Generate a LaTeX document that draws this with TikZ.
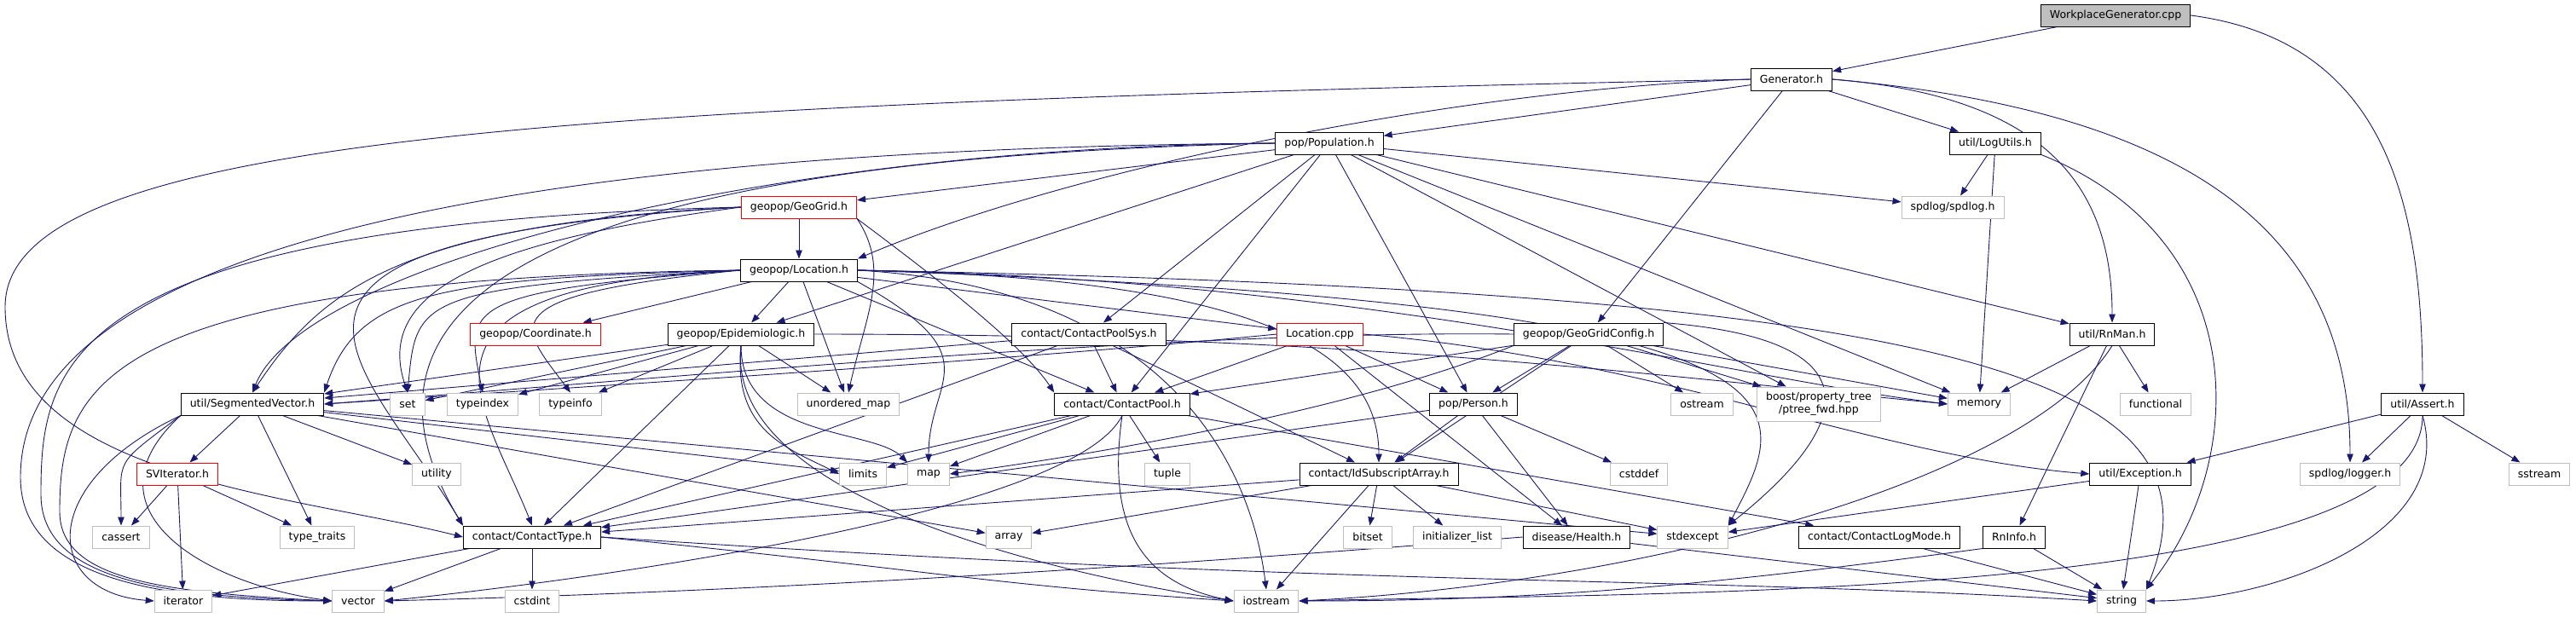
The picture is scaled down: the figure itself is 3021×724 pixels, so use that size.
\documentclass[tikz,border=0pt]{standalone}
\usepackage{fontspec}
\setmainfont{DejaVu Sans}
\usetikzlibrary{arrows.meta}
\definecolor{edgeblue}{HTML}{191970}
\definecolor{sysgray}{HTML}{BFBFBF}
\pgfdeclarelayer{paper}
\pgfdeclarelayer{edges}
\pgfsetlayers{paper,edges,main}

\tikzset{
  header/.style={draw=black, fill=white, line width=1pt, minimum height=26pt,
    inner xsep=10.5pt, inner ysep=2pt, font=\fontsize{12.5}{15}\selectfont},
  syshdr/.style={header, draw=sysgray},
  cuthdr/.style={header, draw=red},
  dep/.style={edgeblue, line width=0.9pt, -{Triangle[length=10pt,width=7.5pt]}}
}

\begin{document}
\begin{tikzpicture}[x=1pt, y=-1pt]
\begin{pgfonlayer}{paper}
\fill[white] (0,0) rectangle (3021,724);
\end{pgfonlayer}
\useasboundingbox (0,0) rectangle (3021,724);

% files of the project
\node[header, fill=sysgray] (wg) at (2481,18) {WorkplaceGenerator.cpp};
\node[header] (gen) at (2101,93) {Generator.h};
\node[header] (popu) at (1559,168) {pop/Population.h};
\node[header] (logu) at (2340,168) {util/LogUtils.h};
\node[cuthdr] (gg) at (937,243) {geopop/GeoGrid.h};
\node[header] (loch) at (937,317) {geopop/Location.h};
\node[cuthdr] (coord) at (628,392) {geopop/Coordinate.h};
\node[header] (epi) at (869,392) {geopop/Epidemiologic.h};
\node[header] (cpsys) at (1277,392) {contact/ContactPoolSys.h};
\node[cuthdr] (lcpp) at (1548,392) {Location.cpp};
\node[header] (ggc) at (1863,392) {geopop/GeoGridConfig.h};
\node[header] (rnman) at (2477,392) {util/RnMan.h};
\node[header] (segvec) at (296,474) {util/SegmentedVector.h};
\node[header] (cpool) at (1316,474) {contact/ContactPool.h};
\node[header] (person) at (1728,474) {pop/Person.h};
\node[header] (assert) at (2841,474) {util/Assert.h};
\node[cuthdr] (sviter) at (208,556) {SVIterator.h};
\node[header] (idsub) at (1617,556) {contact/IdSubscriptArray.h};
\node[header] (exception) at (2510,556) {util/Exception.h};
\node[header] (ctype) at (624,630) {contact/ContactType.h};
\node[header] (health) at (1849,630) {disease/Health.h};
\node[header] (logmode) at (2204,630) {contact/ContactLogMode.h};
\node[header] (rninfo) at (2362,630) {RnInfo.h};

% system and library headers
\node[syshdr] (spdlog) at (2290,243) {spdlog/spdlog.h};
\node[syshdr] (set) at (478,474) {set};
\node[syshdr] (typeindex) at (566,474) {typeindex};
\node[syshdr] (typeinfo) at (669,474) {typeinfo};
\node[syshdr] (umap) at (995,474) {unordered\_map};
\node[syshdr] (ostream) at (1996,474) {ostream};
\node[syshdr, minimum height=40pt, align=center] (boost) at (2133,474) {boost/property\_tree\\/ptree\_fwd.hpp};
\node[syshdr] (memory) at (2321,474) {memory};
\node[syshdr] (functional) at (2528,474) {functional};
\node[syshdr] (utility) at (512,556) {utility};
\node[syshdr] (limits) at (1012,556) {limits};
\node[syshdr] (map) at (1089,556) {map};
\node[syshdr] (tuple) at (1369,556) {tuple};
\node[syshdr] (cstddef) at (1922,556) {cstddef};
\node[syshdr] (logger) at (2756,556) {spdlog/logger.h};
\node[syshdr] (sstream) at (2978,556) {sstream};
\node[syshdr] (cassert) at (142,630) {cassert};
\node[syshdr] (typetraits) at (372,630) {type\_traits};
\node[syshdr] (array) at (1183,630) {array};
\node[syshdr] (bitset) at (1604,630) {bitset};
\node[syshdr] (initlist) at (1709,630) {initializer\_list};
\node[syshdr] (stdexcept) at (1985,630) {stdexcept};
\node[syshdr] (iterator) at (215,705) {iterator};
\node[syshdr] (vector) at (420,705) {vector};
\node[syshdr] (cstdint) at (624,705) {cstdint};
\node[syshdr] (iostream) at (1485,705) {iostream};
\node[syshdr] (string) at (2488,705) {string};

% turning points of the long edges on the left
\coordinate (railA) at (6,360);
\coordinate (railB) at (24,560);
\coordinate (railC) at (48,580);
\coordinate (railD) at (70,600);

\begin{pgfonlayer}{edges}
% WorkplaceGenerator.cpp and Generator.h
\draw[dep] (wg) -- (gen);
\draw[dep] (wg.east) .. controls +(230,30) and +(0,-220) .. (assert.north);
\foreach \t in {popu,logu,ggc}
  \draw[dep] (gen) -- (\t);
\draw[dep] (gen.east) .. controls +(250,20) and +(0,-160) .. (rnman.north);
\draw[dep] (gen.east) .. controls +(450,40) and +(0,-250) .. (logger.north);
\draw[dep] (gen.west) .. controls +(-350,12) and +(244,-104) .. (loch.north east);
\draw[dep] (gen.west) .. controls +(-1400,30) and +(0,-200) .. (railA)
  .. controls +(0,200) and +(-200,-50) .. (ctype.west);

% util/LogUtils.h
\draw[dep] (logu) -- (spdlog);
\draw[dep] (logu) -- (memory);
\draw[dep] (logu.south east) .. controls +(250,100) and +(120,-150) .. (string.north east);

% pop/Population.h
\foreach \t in {gg,epi,cpsys,cpool,person,boost,memory,spdlog,rnman}
  \draw[dep] (popu) -- (\t);
\draw[dep] (popu.west) .. controls +(-600,5) and +(60,-150) .. (segvec.north);
\draw[dep] (popu.west) .. controls +(-900,20) and +(-150,-250) .. (ctype.north west);
\draw[dep] (popu.west) .. controls +(-1300,10) and +(0,-150) .. (railB)
  .. controls +(0,120) and +(-200,0) .. (vector.west);

% geopop/GeoGrid.h
\draw[dep] (gg) -- (loch);
\draw[dep] (gg.south east) .. controls +(80,60) and +(-40,-60) .. (cpool.north west);
\draw[dep] (gg.south east) .. controls +(40,60) and +(20,-90) .. (umap.north);
\draw[dep] (gg.west) .. controls +(-400,20) and +(80,-120) .. (segvec.north);
\draw[dep] (gg.west) .. controls +(-300,40) and +(-40,-120) .. (set.north);
\draw[dep] (gg.west) .. controls +(-650,40) and +(-120,-200) .. (ctype.north west);
\draw[dep] (gg.west) .. controls +(-800,20) and +(0,-150) .. (railC)
  .. controls +(0,100) and +(-200,-5) .. (vector.west);

% geopop/Location.h
\foreach \t in {coord,epi,lcpp,cpool,umap}
  \draw[dep] (loch) -- (\t);
\draw[dep] (loch.west) .. controls +(-350,10) and +(40,-120) .. (segvec.north east);
\draw[dep] (loch.west) .. controls +(-380,20) and +(10,-110) .. (set.north);
\draw[dep] (loch.west) .. controls +(-330,25) and +(-20,-100) .. (typeindex.north);
\draw[dep] (loch.west) .. controls +(-300,30) and +(-60,-80) .. (typeinfo.north);
\draw[dep] (loch.west) .. controls +(-420,20) and +(-60,-150) .. (ctype.north);
\draw[dep] (loch.east) .. controls +(500,10) and +(0,-120) .. (idsub.north);
\draw[dep] (loch.south east) .. controls +(160,90) and +(0,-100) .. (map.north);
\draw[dep] (loch.east) .. controls +(350,20) and +(-20,-160) .. (iostream.north);
\draw[dep] (loch.east) .. controls +(600,10) and +(-250,-30) .. (memory.west);
\draw[dep] (loch.east) .. controls +(1300,25) and +(100,-250) .. (string.north east);
\draw[dep] (loch.east) .. controls +(1150,40) and +(80,-150) .. (stdexcept.north east);
\draw[dep] (loch.west) .. controls +(-750,10) and +(0,-150) .. (railD)
  .. controls +(0,80) and +(-200,-10) .. (vector.west);

% geopop/Epidemiologic.h
\foreach \t in {segvec,set,typeindex,typeinfo,umap,ctype}
  \draw[dep] (epi) -- (\t);
\draw[dep] (epi.south) .. controls +(0,110) and +(-40,-40) .. (map.north west);
\draw[dep] (epi.south) .. controls +(-10,100) and +(-60,-30) .. (limits.west);
\draw[dep] (epi.south) .. controls +(-20,180) and +(-200,-30) .. (iostream.west);
\draw[dep] (epi.east) .. controls +(600,0) and +(-400,-40) .. (memory.west);

% contact headers
\foreach \t in {cpool,idsub,ctype,segvec}
  \draw[dep] (cpsys) -- (\t);
\foreach \t in {cpool,person,health}
  \draw[dep] (lcpp) -- (\t);
\draw[dep] (lcpp.west) .. controls +(-300,30) and +(300,-20) .. (segvec.east);
\draw[dep] (lcpp.east) .. controls +(350,30) and +(-250,-20) .. (exception.west);
\foreach \t in {cpool,person,idsub,ostream,boost,memory}
  \draw[dep] (ggc) -- (\t);
\draw[dep] (ggc.south west) .. controls +(-200,80) and +(150,-20) .. (map.east);
\draw[dep] (ggc.west) .. controls +(-400,-5) and +(400,-30) .. (segvec.east);
\draw[dep] (ggc.north east) .. controls +(250,20) and +(150,-120) .. (stdexcept.north east);
\foreach \t in {idsub,ctype,health,cstddef}
  \draw[dep] (person) -- (\t);
\foreach \t in {array,bitset,initlist,iostream,stdexcept,ctype}
  \draw[dep] (idsub) -- (\t);
\foreach \t in {limits,map,tuple,ctype,logmode}
  \draw[dep] (cpool) -- (\t);
\draw[dep] (cpool.south) .. controls +(-60,120) and +(200,-20) .. (vector.east);
\draw[dep] (cpool.south) .. controls +(-20,140) and +(-100,-20) .. (iostream.west);

% util headers
\foreach \t in {sviter,typetraits,utility,limits,array,stdexcept}
  \draw[dep] (segvec) -- (\t);
\draw[dep] (segvec.south west) .. controls +(-80,60) and +(0,-80) .. (cassert.north);
\draw[dep] (segvec.south west) .. controls +(-170,80) and +(-130,-10) .. (iterator.west);
\draw[dep] (segvec.south west) .. controls +(-120,110) and +(-150,-20) .. (vector.west);
\foreach \t in {cassert,iterator,typetraits}
  \draw[dep] (sviter) -- (\t);
\foreach \t in {iterator,vector,cstdint}
  \draw[dep] (ctype) -- (\t);
\draw[dep] (ctype.east) .. controls +(400,40) and +(-300,-20) .. (iostream.west);
\draw[dep] (ctype.east) .. controls +(900,60) and +(-500,-30) .. (string.west);
\draw[dep] (health) -- (string);
\draw[dep] (health.west) .. controls +(-500,40) and +(400,-10) .. (vector.east);
\draw[dep] (logmode) -- (string);
\draw[dep] (rninfo) -- (string);
\draw[dep] (rninfo.south west) .. controls +(-300,40) and +(300,0) .. (iostream.east);
\foreach \t in {memory,functional,rninfo}
  \draw[dep] (rnman) -- (\t);
\draw[dep] (rnman.south) .. controls +(-100,160) and +(400,-20) .. (iostream.east);
\draw[dep] (exception) -- (string);
\draw[dep] (exception) -- (stdexcept);
\foreach \t in {exception,logger,sstream}
  \draw[dep] (assert) -- (\t);
\draw[dep] (assert.south) .. controls +(40,140) and +(150,0) .. (string.east);
\draw[dep] (assert.south) .. controls +(0,220) and +(400,-10) .. (iostream.east);
\end{pgfonlayer}
\end{tikzpicture}
\end{document}
